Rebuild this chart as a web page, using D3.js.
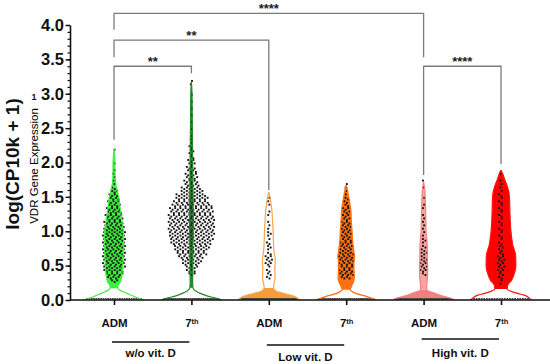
<!DOCTYPE html>
<html>
<head>
<meta charset="utf-8">
<script src="https://cdn.jsdelivr.net/npm/d3@7"></script>
<style>
body { margin: 0; background: #fff; }
svg { display: block; font-family: "Liberation Sans", Arial, sans-serif; }
</style>
</head>
<body>
<svg id="chart" width="550" height="364"></svg>
<script>
// categories
const groupIds = ["woADM", "wo7th", "lowADM", "low7th", "highADM", "high7th"];
const tickNames = ["ADM", "7th", "ADM", "7th", "ADM", "7th"];
const conditionNames = ["w/o vit. D", "Low vit. D", "High vit. D"];
const yTicks = [0, 0.5, 1, 1.5, 2, 2.5, 3, 3.5, 4];

// number of cells per 0.05 bin of expression (bin 0 = 0.00-0.05)
const binStep = 0.05;
const woAdmCounts = [0,0,0,0,0, 3,5,7,8,9, 9,9,9,9,9, 9,9,9,9,9, 8,8,8,7,7, 6,6,5,5,4, 4,3,2,1,1, 1,1,1,0,1, 0,0,0,1];
const wo7thCounts = [0,0,0,0,0, 0,0,3,4,5, 7,8,10,12,13, 14,16,17,17,18, 18,18,18,18,18, 17,17,16,14,13,
  12,9,8,6,6, 5,5,4,4,3, 3,2,2,2,2, 1,1,1,0,1, 0,1,0,1,0, 1,0,1,0,1, 0,0,1,1];
const lowAdmCounts = [0,0,0,0,0, 0,2,2,2,1, 3,3,3,2,1, 2,2,1,1,2, 1,1,1,0,1, 1,0,1,1,1];
const low7thCounts = [0,0,0,0,0, 0,4,6,6,5, 6,6,6,6,5, 5,5,4,4,4, 4,4,4,3,3, 3,3,2,2,2, 1,1,1,1];
const highAdmCounts = [0,0,0,0,0, 0,0,2,3,3, 3,3,2,3,2, 2,1,2,1,1, 1,1,1,1,1, 0,1,1,0,1, 0,0,1,0,1];
const high7thCounts = [0,0,0,0,1, 1,2,2,3,3, 3,3,3,2,2, 2,2,1,2,1, 2,1,2,1,2, 1,2,1,2,1, 2,1,1,1,1, 0,1];
// cells with zero expression (drawn along the baseline)
const zeroCounts = [24, 30, 36, 30, 30, 22];

// violin outlines: [expression, relative half width]
const woAdmShape = [[0,0.97],[0.05,0.65],[0.1,0.4],[0.14,0.2],[0.17,0.12],[0.21,0.13],[0.26,0.2],[0.32,0.24],
  [0.4,0.26],[0.5,0.28],[0.6,0.29],[0.7,0.3],[0.8,0.31],[0.9,0.31],[1.0,0.3],[1.1,0.27],[1.2,0.24],[1.3,0.21],
  [1.4,0.18],[1.5,0.15],[1.6,0.1],[1.7,0.05],[1.8,0.035],[2.0,0.03],[2.2,0]];
const wo7thShape = [[0,0.97],[0.03,0.75],[0.06,0.5],[0.1,0.27],[0.13,0.14],[0.16,0.07],[0.18,0.05],[0.25,0.04],
  [0.5,0.045],[0.8,0.05],[1.0,0.06],[1.3,0.06],[1.6,0.05],[2.0,0.04],[2.5,0.03],[3.0,0.02],[3.17,0]];
const lowAdmShape = [[0,1.0],[0.04,0.88],[0.07,0.7],[0.1,0.45],[0.12,0.28],[0.15,0.18],[0.18,0.15],[0.25,0.17],
  [0.3,0.2],[0.4,0.2],[0.45,0.19],[0.55,0.21],[0.62,0.2],[0.7,0.17],[0.85,0.15],[1.0,0.14],[1.15,0.12],
  [1.3,0.1],[1.4,0.07],[1.5,0.04],[1.57,0]];
const low7thShape = [[0,0.98],[0.05,0.67],[0.1,0.28],[0.13,0.17],[0.15,0.13],[0.2,0.17],[0.27,0.24],[0.34,0.26],
  [0.45,0.25],[0.55,0.25],[0.63,0.27],[0.7,0.25],[0.8,0.22],[0.9,0.2],[1.0,0.19],[1.1,0.17],[1.2,0.16],
  [1.3,0.15],[1.4,0.12],[1.5,0.08],[1.6,0.04],[1.67,0]];
const highAdmShape = [[0,1.0],[0.03,0.85],[0.06,0.6],[0.1,0.35],[0.13,0.15],[0.15,0.1],[0.2,0.1],[0.3,0.12],
  [0.45,0.13],[0.6,0.12],[0.75,0.12],[0.9,0.1],[1.0,0.08],[1.2,0.07],[1.4,0.06],[1.6,0.04],[1.72,0]];
const high7thShape = [[0,0.98],[0.04,0.88],[0.07,0.75],[0.1,0.5],[0.13,0.3],[0.16,0.2],[0.22,0.22],[0.28,0.33],
  [0.36,0.41],[0.5,0.48],[0.65,0.47],[0.8,0.38],[1.0,0.32],[1.24,0.29],[1.4,0.28],[1.55,0.26],[1.67,0.19],
  [1.75,0.12],[1.82,0.07],[1.89,0]];
const neckValues = [0.17, 0.18, 0.18, 0.15, 0.15, 0.16];

// significance brackets
const comparisonPairs = [[0, 4], [0, 2], [0, 1], [4, 5]];
const comparisonStars = ["****", "**", "**", "****"];

const allCounts = [woAdmCounts, wo7thCounts, lowAdmCounts, low7thCounts, highAdmCounts, high7thCounts];
const allShapes = [woAdmShape, wo7thShape, lowAdmShape, low7thShape, highAdmShape, high7thShape];

const svg = d3.select("#chart");

const x = d3.scalePoint().domain(groupIds).range([114, 501]);
const y = d3.scaleLinear().domain([0, 4]).range([300, 25]);
const w = d3.scaleLinear().domain([0, 1]).range([0, 31]);

const styles = [
    { line: "#44ec44", body: "#3df03d", foot: "#fff" },
    { line: "#23882a", body: "#23882a", foot: "#fff" },
    { line: "#f8a64c", body: "#fff", foot: "#f89c3a" },
    { line: "#ff7010", body: "#ff7010", foot: "#fff" },
    { line: "#f28080", body: "#f6a3a3", foot: "#f28080" },
    { line: "#ff1414", body: "#ff0000", foot: "#fff" }
];

const spacing = 2.6;

groupIds.forEach((id, i) => {
    const cx = x(id);
    const shape = allShapes[i];
    const neck = neckValues[i];
    const st = styles[i];
    const g = svg.append("g").attr("class", "violin");

    const area = d3.area()
        .y(d => y(d[0]))
        .x0(d => cx - w(d[1]))
        .x1(d => cx + w(d[1]))
        .curve(d3.curveMonotoneY);

    g.append("path").attr("d", area(shape.filter(d => d[0] <= neck))).attr("fill", st.foot);
    g.append("path").attr("d", area(shape.filter(d => d[0] >= neck))).attr("fill", st.body);

    // dots, spread sideways within each bin
    allCounts[i].forEach((n, k) => {
        const yy = y((k + 0.5) * binStep);
        for (let j = 0; j < n; j++) {
            const xx = cx + (j - (n - 1) / 2) * spacing + (k % 2 ? 0.6 : -0.6);
            const dy = (j % 2 ? 0.8 : -0.8);
            g.append("rect").attr("x", xx - 0.95).attr("y", yy - 0.95 + dy)
                .attr("width", 1.9).attr("height", 1.9).attr("fill", "#151515");
        }
    });
    const nz = zeroCounts[i];
    for (let j = 0; j < nz; j++) {
        g.append("rect").attr("x", cx - 27 + j * 54 / (nz - 1) - 0.9).attr("y", y(0) - 2)
            .attr("width", 1.8).attr("height", 1.6).attr("fill", "#444");
    }

    // outline
    [-1, 1].forEach(s => {
        g.append("path")
            .attr("d", d3.line().y(d => y(d[0])).x(d => cx + s * w(d[1])).curve(d3.curveMonotoneY)(shape))
            .attr("fill", "none").attr("stroke", st.line).attr("stroke-width", 1.2);
    });
});

// y axis
const gy = svg.append("g").attr("transform", "translate(70,0)")
    .call(d3.axisLeft(y).tickValues(yTicks).tickFormat(d3.format(".1f")).tickSize(4.5).tickSizeOuter(0).tickPadding(1.5));
gy.select(".domain").attr("stroke", "#111").attr("stroke-width", 1.6);
gy.selectAll(".tick line").attr("stroke", "#111").attr("stroke-width", 1.4);
gy.selectAll(".tick text").attr("font-size", 16.5).attr("font-weight", "bold").attr("fill", "#111")
    .attr("font-family", "'Liberation Sans', Arial, sans-serif");
const gyMinor = svg.append("g").attr("transform", "translate(70,0)")
    .call(d3.axisLeft(y).ticks(40).tickFormat("").tickSize(2.5).tickSizeOuter(0));
gyMinor.select(".domain").remove();
gyMinor.selectAll(".tick line").attr("stroke", "#111").attr("stroke-width", 1.2);

// x axis
svg.append("line").attr("x1", 70).attr("x2", 550).attr("y1", y(0)).attr("y2", y(0))
    .attr("stroke", "#111").attr("stroke-width", 1.6);
const gx = svg.append("g").attr("transform", `translate(0,${y(0)})`)
    .call(d3.axisBottom(x).tickSize(5).tickSizeOuter(0).tickPadding(14));
gx.select(".domain").remove();
gx.selectAll(".tick line").attr("stroke", "#111").attr("stroke-width", 1.6);
gx.selectAll(".tick text").text(null).attr("font-size", 11.5).attr("font-weight", "bold").attr("fill", "#111")
    .each(function (d, i) {
        const t = d3.select(this);
        const name = tickNames[i];
        if (name.endsWith("th")) {
            t.append("tspan").text(name.slice(0, -2));
            t.append("tspan").text("th").attr("font-size", 7.5).attr("dy", "-0.45em");
        } else {
            t.append("tspan").text(name);
        }
    });

// condition groups below the ticks
const groupLineY = [342, 345, 339];
const groupTextY = [357, 361, 357];
conditionNames.forEach((name, k) => {
    const x1 = x(groupIds[k * 2]) - 2, x2 = x(groupIds[k * 2 + 1]) - 2;
    svg.append("line").attr("x1", x1).attr("x2", x2).attr("y1", groupLineY[k]).attr("y2", groupLineY[k])
        .attr("stroke", "#111").attr("stroke-width", 1.4);
    svg.append("text").attr("x", (x1 + x2) / 2).attr("y", groupTextY[k]).attr("text-anchor", "middle")
        .attr("font-size", 11.5).attr("font-weight", "bold").attr("fill", "#111").text(name);
});

// significance brackets: bar level and leg ends in data units
const bracketLevels = [4.17, 3.78, 3.40, 3.40];
const bracketLegs = [[3.93, 3.53], [3.53, 1.60], [2.33, 3.30], [1.82, 1.98]];
comparisonPairs.forEach((p, k) => {
    const xa = x(groupIds[p[0]]), xb = x(groupIds[p[1]]);
    const yl = y(bracketLevels[k]);
    svg.append("path")
        .attr("d", `M${xa},${y(bracketLegs[k][0])}V${yl}H${xb}V${y(bracketLegs[k][1])}`)
        .attr("fill", "none").attr("stroke", "#7a7a7a").attr("stroke-width", 1.3);
    svg.append("text").attr("x", (xa + xb) / 2).attr("y", yl - 0.5).attr("text-anchor", "middle")
        .attr("font-size", 13).attr("font-weight", "bold").attr("fill", "#222").text(comparisonStars[k]);
});

// axis titles
svg.append("text").attr("transform", "translate(19,164) rotate(-90)").attr("text-anchor", "middle")
    .attr("font-size", 19).attr("font-weight", "bold").attr("fill", "#111").text("log(CP10k + 1)");
svg.append("text").attr("transform", "translate(37.5,166) rotate(-90)").attr("text-anchor", "middle")
    .attr("font-size", 11.5).attr("fill", "#000").text("VDR Gene Expression");
svg.append("text").attr("x", 34).attr("y", 100).attr("text-anchor", "middle")
    .attr("font-size", 9).attr("font-weight", "bold").attr("fill", "#111").text("1");
</script>
</body>
</html>
